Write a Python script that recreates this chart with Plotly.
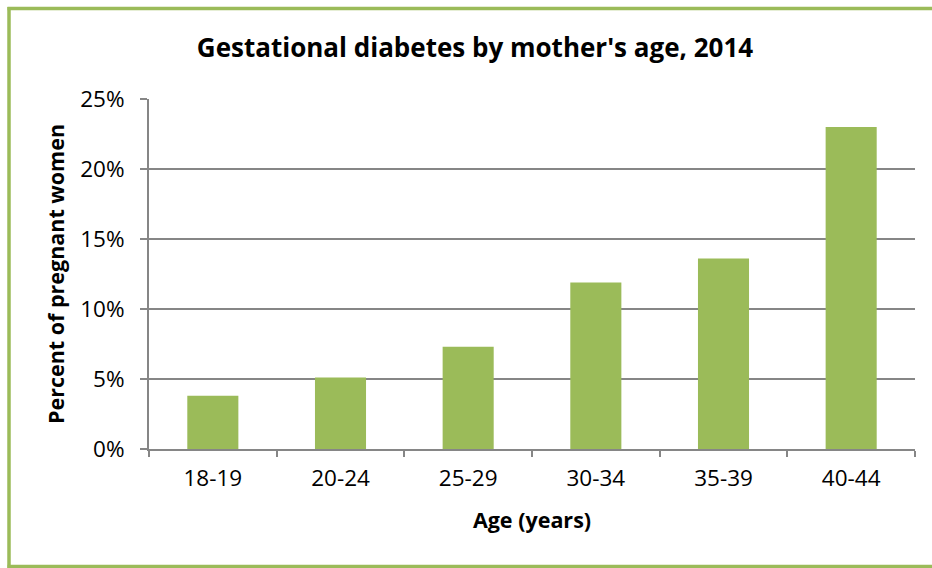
import plotly.graph_objects as go

categories = ["18-19", "20-24", "25-29", "30-34", "35-39", "40-44"]
values = [3.8, 5.1, 7.3, 11.9, 13.6, 23.0]
y_ticks = [0, 5, 10, 15, 20, 25]
y_tick_labels = ["0%", "5%", "10%", "15%", "20%", "25%"]

GREEN = "#9BBB59"
GRID = "#868686"
FONT = "Open Sans"

fig = go.Figure(go.Bar(x=categories, y=values, marker=dict(color=GREEN, line=dict(width=0))))

W, H = 932, 568
L, T = 149, 99
R = W - 915
B = H - 449
pw, ph = W - L - R, H - T - B

def px(x):
    return (x - L) / pw

def py(y):
    return (H - B - y) / ph

border = dict(color=GREEN, width=3.5)

fig.update_layout(
    width=W, height=H,
    margin=dict(l=L, r=R, t=T, b=B, pad=0),
    paper_bgcolor="white", plot_bgcolor="white",
    bargap=0.6,
    showlegend=False,
    font=dict(family=FONT, color="black", size=21),
    title=dict(text="<b>Gestational diabetes by mother's age, 2014</b>",
               x=px(475), xref="paper", xanchor="center",
               y=1 - 48 / H, yanchor="middle",
               font=dict(family=FONT, size=26, color="black")),
    xaxis=dict(
        type="category", tickson="boundaries", ticks="outside", ticklen=6,
        tickcolor=GRID, tickwidth=2, showline=True, linecolor=GRID, linewidth=2,
        showgrid=False, tickfont=dict(size=22.5), ticklabelstandoff=8,
        title=dict(text="<b>Age (years)</b>", font=dict(size=21.5), standoff=21),
    ),
    yaxis=dict(
        range=[0, 25], tickvals=y_ticks, ticktext=y_tick_labels,
        ticks="outside", ticklen=7, tickcolor=GRID, tickwidth=2,
        showline=True, linecolor=GRID, linewidth=2,
        showgrid=True, gridcolor=GRID, gridwidth=2,
        zeroline=False, tickfont=dict(size=22.5), ticklabelstandoff=11,
        title=dict(text="<b>Percent of pregnant women</b>", font=dict(size=21.5), standoff=10),
    ),
    shapes=[
        dict(type="line", xref="paper", yref="paper", x0=px(9), x1=px(9), y0=py(7), y1=py(568), line=border),
        dict(type="line", xref="paper", yref="paper", x0=px(7.5), x1=px(960), y0=py(8.5), y1=py(8.5), line=border),
        dict(type="line", xref="paper", yref="paper", x0=px(7.5), x1=px(960), y0=py(566.5), y1=py(566.5), line=border),
    ],
)

fig.write_html("out.html", config={"displayModeBar": False},
               post_script="document.body.style.margin='0px';document.body.style.overflow='hidden';")
